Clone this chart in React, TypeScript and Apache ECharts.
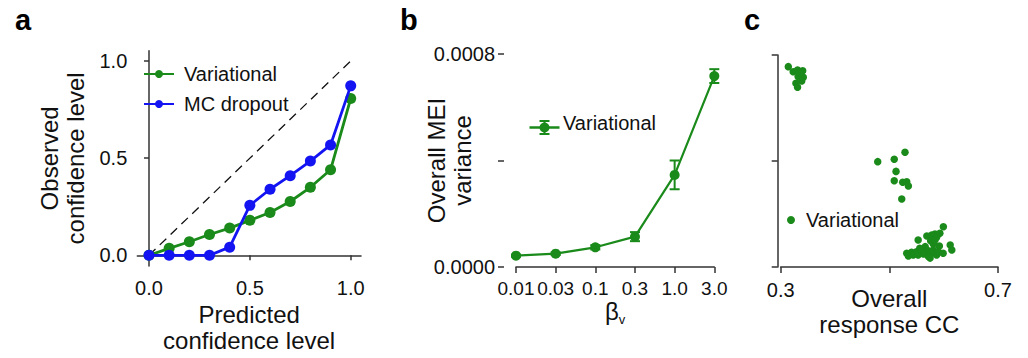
import React, { useEffect, useRef } from "react";
import * as echarts from "echarts";

// Panel a: calibration
const predictedLevels = [0, 0.1, 0.2, 0.3, 0.4, 0.5, 0.6, 0.7, 0.8, 0.9, 1.0];
const variationalObserved = [0, 0.036, 0.07, 0.107, 0.14, 0.18, 0.22, 0.277, 0.35, 0.44, 0.807];
const mcDropoutObserved = [0, 0, 0, 0, 0.042, 0.257, 0.34, 0.41, 0.485, 0.568, 0.872];

// Panel b: MEI variance vs beta
const betaLabels = ["0.01", "0.03", "0.1", "0.3", "1.0", "3.0"];
const meiVarianceMean = [0.0000425, 0.00005, 0.000074, 0.000114, 0.000346, 0.000717];
const meiVarianceErr = [0.000004, 0.000005, 0.000008, 0.000017, 0.000054, 0.000026];

// Panel c: response CC vs (unlabelled) y
const responseCC = [
  0.314, 0.323, 0.331, 0.3405, 0.332, 0.3416, 0.3387, 0.328, 0.331, 0.3355,
  0.4786, 0.509, 0.5288, 0.5123, 0.509, 0.5246, 0.532, 0.535, 0.5228,
  0.5994, 0.584, 0.578, 0.569, 0.553, 0.593, 0.587, 0.576, 0.581, 0.592, 0.612, 0.615,
  0.566, 0.572, 0.581, 0.532, 0.541, 0.55, 0.56, 0.544, 0.553, 0.563, 0.578, 0.587,
  0.599, 0.535, 0.572, 0.59, 0.556, 0.584, 0.575,
];
const responseY = [
  0.945, 0.921, 0.929, 0.926, 0.898, 0.895, 0.877, 0.867, 0.848, 0.915,
  0.497, 0.508, 0.541, 0.451, 0.407, 0.4, 0.402, 0.382, 0.321,
  0.19, 0.156, 0.151, 0.146, 0.127, 0.159, 0.14, 0.124, 0.108, 0.099, 0.104, 0.08,
  0.096, 0.077, 0.08, 0.065, 0.069, 0.072, 0.077, 0.057, 0.057, 0.061, 0.065, 0.057,
  0.065, 0.052, 0.049, 0.072, 0.088, 0.127, 0.042,
];

const GREEN = "#1a8a1a";
const BLUE = "#1414f2";
const FONT = "'Liberation Sans', Arial, sans-serif";
const AXIS = { lineStyle: { color: "#333", width: 1.5 } };
const TICK = { show: true, length: 5, lineStyle: { color: "#333", width: 1.5 } };

export default function App() {
  const ref = useRef<HTMLDivElement>(null);
  useEffect(() => {
    if (!ref.current) return;
    const chart = echarts.init(ref.current, undefined, { renderer: "svg" });
    const label = (extra: any = {}) => ({
      color: "#111",
      fontSize: 20,
      fontFamily: FONT,
      ...extra,
    });
    const nameStyle = { color: "#111", fontSize: 24, fontFamily: FONT, lineHeight: 26 };

    const option: any = {
      animation: false,
      backgroundColor: "#fff",
      textStyle: { fontFamily: FONT },
      grid: [
        { left: 137.3, top: 50.7, width: 223.7, height: 217 },
        { left: 516, top: 54, width: 198.3, height: 213 },
        { left: 780.7, top: 55, width: 217.3, height: 212 },
      ],
      xAxis: [
        {
          gridIndex: 0,
          type: "value",
          min: -0.058,
          max: 1.051,
          splitLine: { show: false },
          axisLine: AXIS,
          axisTick: { ...TICK, customValues: [0, 0.5, 1] },
          axisLabel: { ...label(), margin: 12, customValues: [0, 0.5, 1], formatter: (v: number) => v.toFixed(1) },
          name: "Predicted\nconfidence level",
          nameLocation: "middle",
          nameGap: 35,
          nameMoveOverlap: false,
          nameTextStyle: nameStyle,
        },
        {
          gridIndex: 1,
          type: "category",
          data: betaLabels,
          boundaryGap: false,
          offset: 3,
          axisLine: AXIS,
          axisTick: { ...TICK, length: 6, alignWithLabel: true },
          axisLabel: { ...label({ fontSize: 19 }), margin: 9, interval: 0 },
          name: "{a|β}{b|v}",
          nameLocation: "middle",
          nameGap: 27,
          nameMoveOverlap: false,
          nameTextStyle: {
            rich: {
              a: { fontSize: 24, fontFamily: FONT, color: "#111" },
              b: { fontSize: 13, fontFamily: FONT, color: "#111", padding: [16, 0, 0, 0] },
            },
          },
        },
        {
          gridIndex: 2,
          type: "value",
          min: 0.3,
          max: 0.7,
          offset: 2,
          splitLine: { show: false },
          axisLine: AXIS,
          axisTick: { ...TICK, length: 6, customValues: [0.3, 0.5, 0.7] },
          axisLabel: { ...label(), margin: 11, customValues: [0.3, 0.7], formatter: (v: number) => v.toFixed(1) },
          name: "Overall\nresponse CC",
          nameLocation: "middle",
          nameGap: 16,
          nameMoveOverlap: false,
          nameTextStyle: nameStyle,
        },
      ],
      yAxis: [
        {
          gridIndex: 0,
          type: "value",
          min: -0.055,
          max: 1.053,
          splitLine: { show: false },
          axisLine: AXIS,
          axisTick: { ...TICK, customValues: [0, 0.5, 1] },
          axisLabel: { ...label(), margin: 10, customValues: [0, 0.5, 1], formatter: (v: number) => v.toFixed(1) },
          name: "Observed\nconfidence level",
          nameLocation: "middle",
          nameGap: 49,
          nameMoveOverlap: false,
          nameTextStyle: nameStyle,
        },
        {
          gridIndex: 1,
          type: "value",
          min: 0,
          max: 0.0008,
          interval: 0.0004,
          offset: 12,
          splitLine: { show: false },
          axisLine: AXIS,
          axisTick: { ...TICK, length: 6 },
          axisLabel: {
            ...label(),
            margin: 9,
            formatter: (v: number) => (Math.abs(v - 0.0004) < 1e-9 ? "" : v.toFixed(4)),
          },
          name: "Overall MEI\nvariance",
          nameLocation: "middle",
          nameGap: 29,
          nameMoveOverlap: false,
          nameTextStyle: nameStyle,
        },
        {
          gridIndex: 2,
          type: "value",
          min: 0,
          max: 1,
          interval: 0.5,
          offset: 3,
          splitLine: { show: false },
          axisLine: AXIS,
          axisTick: { ...TICK, length: 6 },
          axisLabel: { show: false },
        },
      ],
      legend: [
        {
          data: ["Variational", "MC dropout"],
          orient: "vertical",
          left: 138,
          top: 59,
          itemWidth: 30,
          itemHeight: 10,
          itemGap: 10,
          textStyle: { ...label(), padding: [0, 0, 0, 5] },
        },
        {
          data: ["c:Variational"],
          left: 782,
          top: 205,
          itemWidth: 20,
          itemHeight: 8,
          formatter: (n: string) => n.split(":")[1],
          textStyle: label(),
        },
      ],
      graphic: [
        { type: "text", left: 15, top: 5, style: { text: "a", fontSize: 29, fontWeight: "bold", fontFamily: FONT, fill: "#000" } },
        { type: "text", left: 400, top: 5, style: { text: "b", fontSize: 29, fontWeight: "bold", fontFamily: FONT, fill: "#000" } },
        { type: "text", left: 744, top: 5, style: { text: "c", fontSize: 29, fontWeight: "bold", fontFamily: FONT, fill: "#000" } },
        {
          type: "group",
          left: 527,
          top: 118,
          children: [
            { type: "line", shape: { x1: 0, y1: 7, x2: 30, y2: 7 }, style: { stroke: GREEN, lineWidth: 2.5 } },
            { type: "line", shape: { x1: 15, y1: 0, x2: 15, y2: 14 }, style: { stroke: GREEN, lineWidth: 2 } },
            { type: "line", shape: { x1: 10, y1: 0.5, x2: 20, y2: 0.5 }, style: { stroke: GREEN, lineWidth: 2 } },
            { type: "line", shape: { x1: 10, y1: 13.5, x2: 20, y2: 13.5 }, style: { stroke: GREEN, lineWidth: 2 } },
            { type: "circle", shape: { cx: 15, cy: 7, r: 5 }, style: { fill: GREEN } },
          ],
        },
        {
          type: "text",
          left: 563,
          top: 113,
          style: { text: "Variational", fontSize: 20, fontFamily: FONT, fill: "#111" },
        },
      ],
      series: [
        {
          type: "line",
          name: "identity",
          xAxisIndex: 0,
          yAxisIndex: 0,
          data: [
            [0, 0],
            [1, 1],
          ],
          symbol: "none",
          silent: true,
          lineStyle: { color: "#111", width: 1.3, type: [9, 6] },
          z: 1,
        },
        {
          type: "line",
          name: "Variational",
          xAxisIndex: 0,
          yAxisIndex: 0,
          data: predictedLevels.map((p, i) => [p, variationalObserved[i]]),
          symbol: "circle",
          symbolSize: 11,
          color: GREEN,
          itemStyle: { color: GREEN },
          lineStyle: { color: GREEN, width: 2.8 },
          z: 2,
        },
        {
          type: "line",
          name: "MC dropout",
          xAxisIndex: 0,
          yAxisIndex: 0,
          data: predictedLevels.map((p, i) => [p, mcDropoutObserved[i]]),
          symbol: "circle",
          symbolSize: 11,
          color: BLUE,
          itemStyle: { color: BLUE },
          lineStyle: { color: BLUE, width: 2.8 },
          z: 3,
        },
        {
          type: "line",
          name: "b:Variational",
          xAxisIndex: 1,
          yAxisIndex: 1,
          data: meiVarianceMean,
          symbol: "circle",
          symbolSize: 10,
          itemStyle: { color: GREEN },
          lineStyle: { color: GREEN, width: 2.2 },
          z: 3,
        },
        {
          type: "custom",
          name: "b:err",
          xAxisIndex: 1,
          yAxisIndex: 1,
          data: meiVarianceMean.map((m, i) => [i, m - meiVarianceErr[i], m + meiVarianceErr[i]]),
          encode: { x: 0, y: [1, 2] },
          renderItem: (params: any, api: any) => {
            const x = api.value(0);
            const lo = api.coord([x, api.value(1)]);
            const hi = api.coord([x, api.value(2)]);
            const w = 5;
            const st = { stroke: GREEN, lineWidth: 2 };
            return {
              type: "group",
              children: [
                { type: "line", shape: { x1: hi[0], y1: hi[1], x2: lo[0], y2: lo[1] }, style: st },
                { type: "line", shape: { x1: hi[0] - w, y1: hi[1], x2: hi[0] + w, y2: hi[1] }, style: st },
                { type: "line", shape: { x1: lo[0] - w, y1: lo[1], x2: lo[0] + w, y2: lo[1] }, style: st },
              ],
            };
          },
          z: 4,
        },
        {
          type: "scatter",
          name: "c:Variational",
          xAxisIndex: 2,
          yAxisIndex: 2,
          data: responseCC.map((x, i) => [x, responseY[i]]),
          symbol: "circle",
          symbolSize: 7.5,
          itemStyle: { color: GREEN, opacity: 1 },
        },
      ],
    };
    chart.setOption(option);
    return () => chart.dispose();
  }, []);
  return (
    <div
      ref={ref}
      style={{ position: "absolute", left: 0, top: 0, width: 1028, height: 358, background: "#fff" }}
    />
  );
}
